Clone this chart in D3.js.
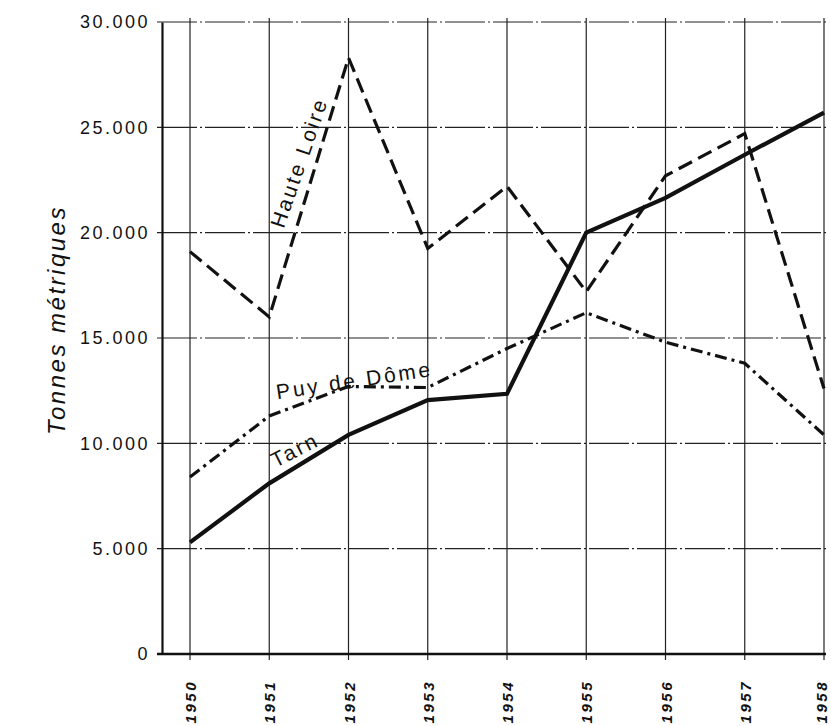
<!DOCTYPE html>
<html>
<head>
<meta charset="utf-8">
<script src="https://cdn.jsdelivr.net/npm/d3@7"></script>
<style>
  body { margin: 0; background: #fff; }
  text { font-family: "Liberation Sans", Arial, sans-serif; fill: #111; }
</style>
</head>
<body>
<svg id="chart"></svg>
<script>
// values (tonnes métriques)
const years = [1950, 1951, 1952, 1953, 1954, 1955, 1956, 1957, 1958];
const hauteLoire = [19100, 16000, 28300, 19250, 22200, 17200, 22700, 24700, 12600];
const puyDeDome = [8400, 11300, 12700, 12650, 14500, 16200, 14800, 13800, 10400];
const tarn = [5300, 8100, 10400, 12050, 12350, 20000, 21650, 23700, 25700];
const yTicks = [0, 5000, 10000, 15000, 20000, 25000, 30000];

const width = 831, height = 726;
const axisX = 162, plotL = 190, plotR = 824, plotTop = 22, plotBottom = 654;

let svg = d3.select('#chart').attr('width', width).attr('height', height);

let x = d3.scaleLinear().domain([1950, 1958]).range([plotL, plotR]);
let y = d3.scaleLinear().domain([0, 30000]).range([plotBottom, plotTop]);

let fr = d3.formatLocale({ decimal: ',', thousands: '.', grouping: [3], currency: ['', ''] });
let fmt = fr.format(',');

// horizontal grid
svg.append('g')
  .selectAll('line')
  .data(yTicks.filter(d => d > 0))
  .enter()
  .append('line')
  .attr('x1', axisX - 5)
  .attr('x2', plotR + 2)
  .attr('y1', d => y(d))
  .attr('y2', d => y(d))
  .attr('stroke', '#222')
  .attr('stroke-width', 1.2)
  .attr('stroke-dasharray', '40,3,2,3');

// vertical grid
svg.append('g')
  .selectAll('line')
  .data(years)
  .enter()
  .append('line')
  .attr('x1', d => x(d))
  .attr('x2', d => x(d))
  .attr('y1', plotTop - 4)
  .attr('y2', plotBottom + 6)
  .attr('stroke', '#222')
  .attr('stroke-width', 1.2);

// y axis
let yAxis = svg.append('g')
  .attr('transform', 'translate(' + axisX + ',0)')
  .call(d3.axisLeft(y).tickValues(yTicks).tickFormat(fmt).tickSize(0).tickPadding(12));
yAxis.select('.domain').attr('stroke', '#111').attr('stroke-width', 2.2);
yAxis.selectAll('text')
  .style('font-size', '18px')
  .style('letter-spacing', '2.5px')
  .style('font-family', '"Liberation Sans", Arial, sans-serif')
  .attr('fill', '#111');

// baseline
svg.append('line')
  .attr('x1', axisX - 5)
  .attr('x2', plotR + 2)
  .attr('y1', y(0))
  .attr('y2', y(0))
  .attr('stroke', '#111')
  .attr('stroke-width', 2.4);

// year labels
svg.append('g')
  .selectAll('text')
  .data(years)
  .enter()
  .append('text')
  .attr('transform', d => 'translate(' + Math.min(x(d) + 6, width - 4) + ',680) rotate(-90)')
  .attr('text-anchor', 'end')
  .style('font-size', '15px')
  .style('font-weight', 'bold')
  .style('font-style', 'italic')
  .style('letter-spacing', '2.5px')
  .text(d => d);

// axis title
svg.append('text')
  .attr('transform', 'translate(65,320) rotate(-90)')
  .attr('text-anchor', 'middle')
  .style('font-size', '24px')
  .style('font-style', 'italic')
  .style('letter-spacing', '2.5px')
  .text('Tonnes métriques');

// series
let line = d3.line().x((d, i) => x(years[i])).y(d => y(d));
let series = [
  { name: 'Haute Loire', values: hauteLoire, dash: '15,7', w: 3.2 },
  { name: 'Puy de Dôme', values: puyDeDome, dash: '12,5,3,5', w: 3.2 },
  { name: 'Tarn', values: tarn, dash: null, w: 4.2 }
];
svg.append('g')
  .selectAll('path')
  .data(series)
  .enter()
  .append('path')
  .attr('d', d => line(d.values))
  .attr('fill', 'none')
  .attr('stroke', '#111')
  .attr('stroke-width', d => d.w)
  .attr('stroke-linejoin', 'miter')
  .attr('stroke-dasharray', d => d.dash);

// curve labels
let labels = [
  { text: 'Haute Loire', px: x(1951) + 0.59 * (x(1952) - x(1951)) - 10, py: 165, rot: -71, spacing: 2.5 },
  { text: 'Puy de Dôme', px: x(1952) + 7, py: y(12700) + 1, rot: -8.5, spacing: 2.8 },
  { text: 'Tarn', px: x(1951) + 29, py: y(8100) - 27, rot: -27, spacing: 2.5 }
];
svg.append('g')
  .selectAll('text')
  .data(labels)
  .enter()
  .append('text')
  .attr('transform', d => 'translate(' + d.px + ',' + d.py + ') rotate(' + d.rot + ')')
  .attr('text-anchor', 'middle')
  .style('font-size', '21px')
  .style('letter-spacing', d => d.spacing + 'px')
  .text(d => d.text);
</script>
</body>
</html>
